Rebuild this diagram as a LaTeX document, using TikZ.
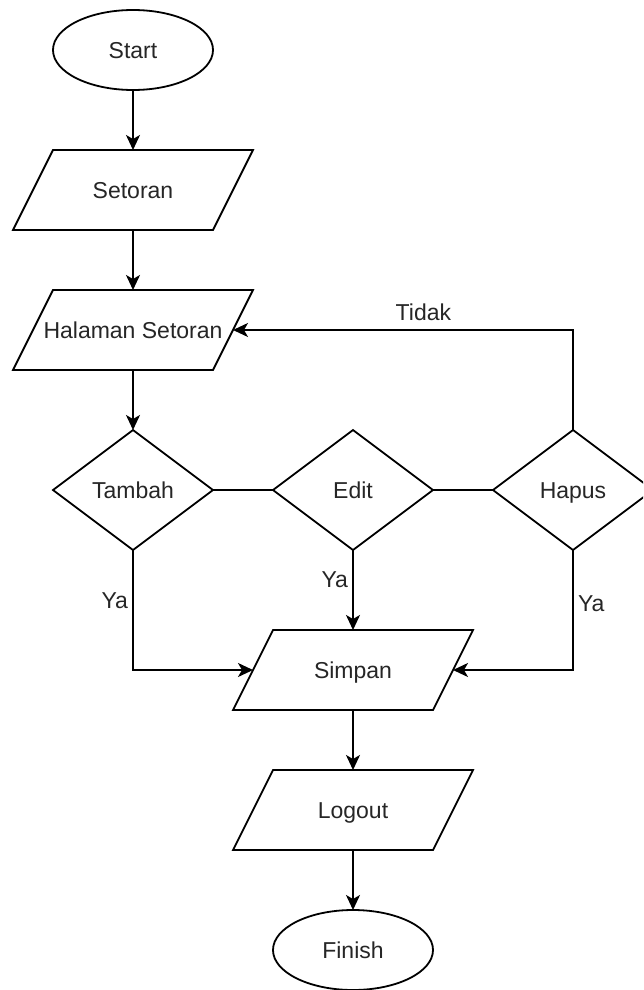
\documentclass[tikz,border=0pt]{standalone}
\usepackage{fontspec}
\setmainfont{Liberation Sans}
\usetikzlibrary{shapes.geometric,arrows.meta}
\begin{document}
\begin{tikzpicture}[x=1pt,y=-1pt,
  every node/.style={font=\fontsize{23}{27}\selectfont, text=black!85, outer sep=0pt, inner sep=0pt, text height=16.5pt, text depth=0pt},
  para/.style={minimum width=200pt, minimum height=80pt},
  term/.style={ellipse, draw=black, line width=1.8pt, minimum width=160pt, minimum height=80pt},
  decision/.style={diamond, draw=black, line width=1.8pt, minimum width=160pt, minimum height=120pt},
  conn/.style={line width=1.8pt, -{Stealth[length=15pt,width=14pt,inset=4pt]}},
  plain/.style={line width=1.8pt},
  lbl/.style={text=black!85}
]
\clip (0,0) rectangle (643,990);
\fill[white] (0,0) rectangle (643,990);

\node[term] (start) at (133,50) {Start};
\node[para] (set) at (133,190) {Setoran};
\node[para] (hal) at (133,330) {Halaman Setoran};
\node[decision] (tambah) at (133,490) {Tambah};
\node[decision] (edit) at (353,490) {Edit};
\node[decision] (hapus) at (573,490) {Hapus};
\node[para] (simp) at (353,670) {Simpan};
\node[para] (logout) at (353,810) {Logout};
\node[term] (finish) at (353,950) {Finish};

\foreach \n in {set,hal,simp,logout}{
  \draw[plain, line join=miter] ([xshift=20pt]\n.north west) -- ([xshift=20pt]\n.north east) -- ([xshift=-20pt]\n.south east) -- ([xshift=-20pt]\n.south west) -- cycle;
}

\draw[conn] (start.south) -- (set.north);
\draw[conn] (set.south) -- (hal.north);
\draw[conn] (hal.south) -- (tambah.north);
\draw[plain] (tambah.east) -- (edit.west);
\draw[plain] (edit.east) -- (hapus.west);
\draw[conn] (hapus.north) |- (hal.east) node[lbl, pos=0.72, above=10pt] {Tidak};
\draw[conn] (tambah.south) |- (simp.west) node[lbl, pos=0.21, left=5pt] {Ya};
\draw[conn] (edit.south) -- (simp.north) node[lbl, pos=0.36, left=5pt] {Ya};
\draw[conn] (hapus.south) |- (simp.east) node[lbl, pos=0.22, right=5pt] {Ya};
\draw[conn] (simp.south) -- (logout.north);
\draw[conn] (logout.south) -- (finish.north);
\end{tikzpicture}
\end{document}
